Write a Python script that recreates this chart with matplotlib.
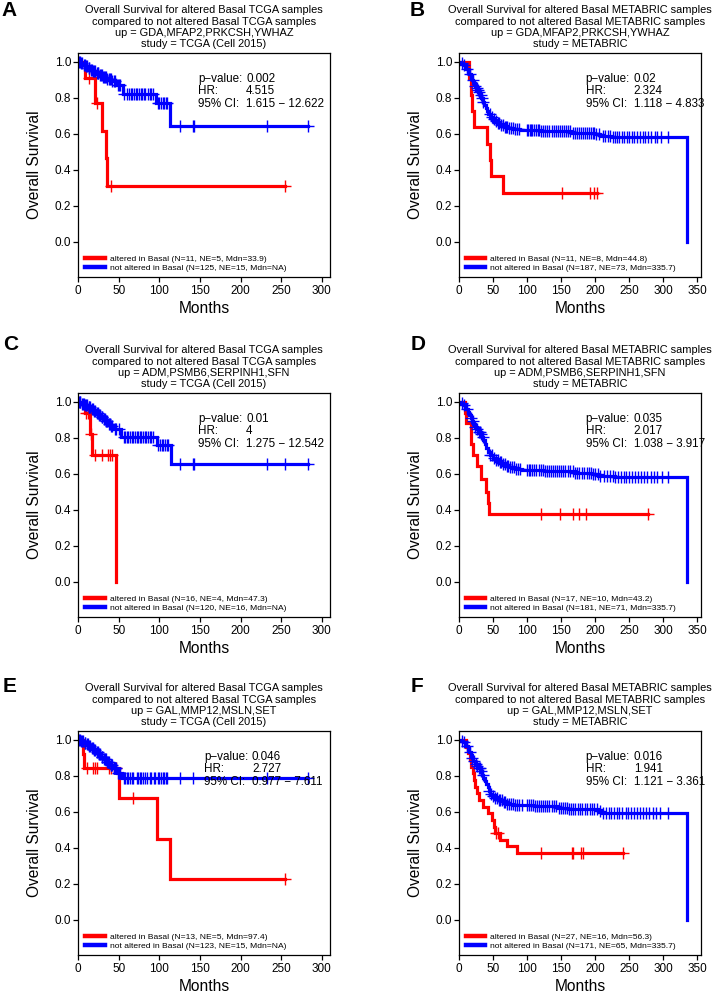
import numpy as np
import matplotlib
matplotlib.use("Agg")
import matplotlib.pyplot as plt
from matplotlib.lines import Line2D

plt.rcParams['font.family'] = ['Liberation Sans', 'DejaVu Sans']

RED = '#ff0000'
BLUE = '#0000ff'

panel_letters = ['A', 'B', 'C', 'D', 'E', 'F']

titles = [
    "Overall Survival for altered Basal TCGA samples\ncompared to not altered Basal TCGA samples\nup = GDA,MFAP2,PRKCSH,YWHAZ\nstudy = TCGA (Cell 2015)",
    "Overall Survival for altered Basal METABRIC samples\ncompared to not altered Basal METABRIC samples\nup = GDA,MFAP2,PRKCSH,YWHAZ\nstudy = METABRIC",
    "Overall Survival for altered Basal TCGA samples\ncompared to not altered Basal TCGA samples\nup = ADM,PSMB6,SERPINH1,SFN\nstudy = TCGA (Cell 2015)",
    "Overall Survival for altered Basal METABRIC samples\ncompared to not altered Basal METABRIC samples\nup = ADM,PSMB6,SERPINH1,SFN\nstudy = METABRIC",
    "Overall Survival for altered Basal TCGA samples\ncompared to not altered Basal TCGA samples\nup = GAL,MMP12,MSLN,SET\nstudy = TCGA (Cell 2015)",
    "Overall Survival for altered Basal METABRIC samples\ncompared to not altered Basal METABRIC samples\nup = GAL,MMP12,MSLN,SET\nstudy = METABRIC",
]

p_values = ['0.002', '0.02', '0.01', '0.035', '0.046', '0.016']
hr_values = ['4.515', '2.324', '4', '2.017', '2.727', '1.941']
ci_values = ['1.615 \u2212 12.622', '1.118 \u2212 4.833', '1.275 \u2212 12.542',
             '1.038 \u2212 3.917', '0.977 \u2212 7.611', '1.121 \u2212 3.361']

red_labels = [
    'altered in Basal (N=11, NE=5, Mdn=33.9)',
    'altered in Basal (N=11, NE=8, Mdn=44.8)',
    'altered in Basal (N=16, NE=4, Mdn=47.3)',
    'altered in Basal (N=17, NE=10, Mdn=43.2)',
    'altered in Basal (N=13, NE=5, Mdn=97.4)',
    'altered in Basal (N=27, NE=16, Mdn=56.3)',
]
blue_labels = [
    'not altered in Basal (N=125, NE=15, Mdn=NA)',
    'not altered in Basal (N=187, NE=73, Mdn=335.7)',
    'not altered in Basal (N=120, NE=16, Mdn=NA)',
    'not altered in Basal (N=181, NE=71, Mdn=335.7)',
    'not altered in Basal (N=123, NE=15, Mdn=NA)',
    'not altered in Basal (N=171, NE=65, Mdn=335.7)',
]

x_ticks_tcga = [0, 50, 100, 150, 200, 250, 300]
x_ticks_metabric = [0, 50, 100, 150, 200, 250, 300, 350]
y_ticks = [0.0, 0.2, 0.4, 0.6, 0.8, 1.0]

# ---------------- Panel A (TCGA) ----------------
a_red_time = [9, 21, 30, 34.5, 36]
a_red_surv = [0.909, 0.773, 0.618, 0.464, 0.309]
a_red_cens = [13, 23, 40, 255]
a_blue_time = [3, 6, 9, 12, 15, 18, 22, 26, 30, 35, 41, 47, 55, 96, 113]
a_blue_surv = [0.992, 0.984, 0.976, 0.967, 0.958, 0.949, 0.939, 0.929, 0.918,
               0.906, 0.893, 0.872, 0.822, 0.772, 0.645]
a_blue_cens = [1, 2, 4, 5, 7, 8, 10, 11, 13, 14, 16, 17, 19, 20, 21, 23, 24, 25,
               27, 28, 29, 31, 32, 33, 34, 36, 38, 39, 40, 42, 44, 45, 49, 50, 52,
               57, 60, 63, 65, 67, 69, 71, 73, 75, 77, 79, 81, 83, 86, 88, 90, 92,
               98, 100, 102, 104, 106, 108, 110, 125, 141, 143, 233, 283]

# ---------------- Panel B (METABRIC) ----------------
b_red_time = [14, 17, 19, 22, 41, 45, 47, 64]
b_red_surv = [0.909, 0.818, 0.727, 0.636, 0.545, 0.455, 0.364, 0.273]
b_red_cens = [152, 193, 199, 203]
b_blue_time = [3, 5, 7, 9, 11, 13, 15, 17, 19, 21, 23, 25, 27, 29, 31, 33, 35, 37,
               39, 41, 43, 46, 49, 52, 56, 60, 66, 72, 80, 90, 120, 165, 200, 208,
               225, 336]
b_blue_surv = [0.995, 0.989, 0.984, 0.973, 0.962, 0.951, 0.935, 0.918, 0.902,
               0.885, 0.869, 0.853, 0.842, 0.831, 0.815, 0.798, 0.777, 0.760,
               0.743, 0.726, 0.710, 0.693, 0.682, 0.671, 0.660, 0.649, 0.638,
               0.632, 0.626, 0.620, 0.614, 0.608, 0.600, 0.590, 0.584, 0.0]
b_blue_cens = [4, 8, 12, 16, 20, 24, 26, 28, 30, 32, 34, 36, 45, 48, 51, 54, 57,
               59, 62, 64, 67, 69, 71, 74, 77, 79, 82, 85, 88, 100, 102, 104, 106,
               108, 111, 113, 116, 118, 121, 124, 127, 130, 133, 137, 140, 143,
               146, 149, 152, 155, 158, 161, 164, 167, 170, 173, 176, 179, 182,
               185, 188, 191, 194, 197, 199, 202, 206, 212, 215, 219, 222, 226,
               229, 233, 236, 240, 243, 247, 250, 254, 258, 262, 266, 270, 274,
               278, 282, 288, 292, 297, 308]

# ---------------- Panel C (TCGA) ----------------
c_red_time = [8, 14.5, 17.8, 47.3]
c_red_surv = [0.9375, 0.82, 0.703, 0.0]
c_red_cens = [10, 12, 16, 21, 29, 37, 39, 42]
c_blue_time = [4, 8, 12, 16, 19, 22, 25, 28, 31, 34, 37, 40, 43, 53, 97, 114]
c_blue_surv = [0.99, 0.981, 0.972, 0.962, 0.952, 0.941, 0.930, 0.918, 0.905,
               0.892, 0.878, 0.864, 0.85, 0.805, 0.762, 0.655]
c_blue_cens = [1, 2, 3, 5, 6, 7, 9, 10, 11, 13, 14, 15, 17, 18, 20, 21, 23, 24,
               26, 27, 29, 30, 32, 33, 35, 36, 38, 39, 41, 42, 45, 47, 50, 56, 58,
               60, 62, 64, 66, 68, 70, 72, 74, 76, 78, 80, 82, 84, 86, 88, 90, 92,
               99, 101, 103, 105, 107, 109, 111, 125, 141, 143, 233, 255, 283]

# ---------------- Panel D (METABRIC) ----------------
d_red_time = [9, 11, 17, 18, 21, 26, 32, 40, 43.2, 44.5]
d_red_surv = [0.941, 0.882, 0.824, 0.765, 0.706, 0.647, 0.573, 0.50, 0.44, 0.38]
d_red_cens = [121, 148, 168, 176, 187, 278]
d_blue_time = [3, 5, 7, 9, 11, 13, 15, 17, 19, 21, 23, 26, 29, 32, 34, 36, 38,
               40, 43, 46, 50, 54, 58, 63, 68, 74, 82, 92, 125, 170, 195, 205,
               230, 336]
d_blue_surv = [0.995, 0.989, 0.983, 0.972, 0.961, 0.945, 0.928, 0.911, 0.894,
               0.877, 0.86, 0.848, 0.836, 0.824, 0.805, 0.786, 0.764, 0.742,
               0.722, 0.705, 0.69, 0.676, 0.665, 0.654, 0.644, 0.636, 0.628,
               0.621, 0.614, 0.608, 0.6, 0.588, 0.582, 0.0]
d_blue_cens = [4, 8, 12, 17, 20, 24, 27, 29, 31, 33, 35, 46, 49, 52, 55, 57, 60,
               62, 65, 67, 70, 72, 75, 78, 81, 84, 87, 90, 100, 103, 105, 108,
               111, 114, 117, 120, 123, 126, 129, 132, 135, 138, 141, 144, 147,
               150, 153, 156, 160, 163, 167, 170, 174, 177, 181, 184, 188, 191,
               194, 197, 200, 204, 208, 213, 217, 222, 226, 230, 234, 238, 242,
               246, 250, 255, 259, 263, 268, 272, 277, 282, 287, 291, 298, 308]

# ---------------- Panel E (TCGA) ----------------
e_red_time = [6, 7, 50.5, 97, 113.5]
e_red_surv = [0.923, 0.846, 0.677, 0.451, 0.225]
e_red_cens = [11, 19, 21, 23, 38, 41, 44, 47, 68, 255]
e_blue_time = [3, 7, 10, 13, 16, 19, 22, 25, 28, 31, 35, 39, 43, 48, 54]
e_blue_surv = [0.992, 0.983, 0.975, 0.966, 0.957, 0.947, 0.935, 0.922, 0.908,
               0.893, 0.877, 0.86, 0.842, 0.815, 0.786]
e_blue_cens = [1, 2, 4, 5, 6, 8, 9, 11, 12, 14, 15, 17, 18, 20, 21, 23, 24, 26,
               27, 29, 30, 32, 33, 34, 36, 37, 38, 40, 41, 42, 44, 45, 46, 47, 49,
               50, 51, 52, 56, 58, 60, 62, 64, 66, 68, 72, 74, 76, 78, 80, 82, 85,
               88, 90, 93, 95, 98, 100, 102, 104, 106, 108, 110, 125, 142, 233, 283]

# ---------------- Panel F (METABRIC) ----------------
f_red_time = [10, 13, 16, 18, 20, 22, 24, 27, 30, 36, 42, 48, 51, 53, 61, 70, 85]
f_red_surv = [0.963, 0.926, 0.889, 0.852, 0.815, 0.778, 0.741, 0.704, 0.667,
              0.63, 0.593, 0.556, 0.519, 0.481, 0.444, 0.41, 0.372]
f_red_cens = [55, 58, 120, 166, 168, 180, 183, 241]
f_blue_time = [3, 6, 9, 11, 13, 15, 17, 19, 21, 23, 26, 29, 32, 34, 36, 38, 40,
               42, 44, 46, 49, 53, 58, 64, 70, 80, 110, 145, 160, 205, 210, 336]
f_blue_surv = [0.994, 0.988, 0.976, 0.964, 0.952, 0.935, 0.917, 0.9, 0.883,
               0.866, 0.855, 0.843, 0.826, 0.808, 0.79, 0.772, 0.754, 0.736,
               0.718, 0.70, 0.688, 0.676, 0.665, 0.654, 0.646, 0.638, 0.631,
               0.623, 0.615, 0.605, 0.595, 0.0]
f_blue_cens = [4, 8, 12, 16, 19, 22, 25, 27, 29, 31, 33, 35, 44, 47, 50, 53, 56,
               59, 61, 63, 66, 68, 71, 73, 76, 79, 82, 85, 88, 92, 100, 103, 106,
               109, 112, 115, 118, 121, 124, 127, 130, 133, 137, 140, 143, 147,
               150, 153, 156, 159, 162, 165, 168, 171, 175, 178, 181, 185, 188,
               192, 196, 199, 203, 207, 212, 216, 220, 224, 228, 232, 236, 240,
               245, 249, 253, 258, 262, 266, 270, 275, 280, 285, 290, 296, 308]

panels = [
    (a_red_time, a_red_surv, a_red_cens, a_blue_time, a_blue_surv, a_blue_cens),
    (b_red_time, b_red_surv, b_red_cens, b_blue_time, b_blue_surv, b_blue_cens),
    (c_red_time, c_red_surv, c_red_cens, c_blue_time, c_blue_surv, c_blue_cens),
    (d_red_time, d_red_surv, d_red_cens, d_blue_time, d_blue_surv, d_blue_cens),
    (e_red_time, e_red_surv, e_red_cens, e_blue_time, e_blue_surv, e_blue_cens),
    (f_red_time, f_red_surv, f_red_cens, f_blue_time, f_blue_surv, f_blue_cens),
]

# ---------------- layout (pixels of a 717x991 figure) ----------------
W, H = 717, 991
fig = plt.figure(figsize=(W / 100, H / 100), dpi=100)

col_left = [78, 459]
col_width = [252, 242]
row_top = [53, 393, 731]
ax_height = 224
letter_pos = [(1, 10), (410, 10), (3, 345), (411, 345), (3, 687), (411, 686)]
stat_x = [0.477, 0.5236, 0.477, 0.5236, 0.50, 0.5236]


def km_line(times, surv, cens):
    t = np.concatenate([[0.0], np.asarray(times, float)])
    s = np.concatenate([[1.0], np.asarray(surv, float)])
    end = max(t[-1], max(cens))
    t = np.append(t, end)
    s = np.append(s, s[-1])
    c = np.asarray(cens, float)
    idx = np.searchsorted(t[:-1], c, side='right') - 1
    return t, s, c, s[idx]


for i in range(6):
    r, col = divmod(i, 2)
    left = col_left[col]
    width = col_width[col]
    top = row_top[r]
    ax = fig.add_axes([left / W, 1 - (top + ax_height) / H, width / W, ax_height / H])

    rt, rs, rc, bt, bs, bc = panels[i]
    for (tt, ss, cc, color) in [(rt, rs, rc, RED), (bt, bs, bc, BLUE)]:
        lt, ls, cx, cy = km_line(tt, ss, cc)
        ax.step(lt, ls, where='post', color=color, lw=2.3, solid_joinstyle='miter')
        ax.plot(cx, cy, linestyle='none', marker='+', ms=8, mew=1.0, color=color)

    if col == 0:
        ax.set_xlim(0, 310)
        ax.set_xticks(x_ticks_tcga)
    else:
        ax.set_xlim(0, 356)
        ax.set_xticks(x_ticks_metabric)
    ax.set_ylim(-0.195, 1.05)
    ax.set_yticks(y_ticks)
    ax.set_yticklabels([f'{v:.1f}' for v in y_ticks])
    ax.tick_params(direction='out', length=3.3, width=0.9, labelsize=8.5, pad=1.5)
    ax.tick_params(axis='x', pad=2.5)
    for sp in ax.spines.values():
        sp.set_linewidth(0.9)
    ax.set_xlabel('Months', fontsize=11.2, labelpad=3)
    ax.set_ylabel('Overall Survival', fontsize=11.2, labelpad=9)
    ax.set_title(titles[i], fontsize=7.9, linespacing=1.18, pad=4)

    # statistics block
    ax_w = width
    ys = [0.885, 0.829, 0.772]
    labs = ['p\u2212value:', 'HR:', '95% CI:']
    vals = [p_values[i], hr_values[i], ci_values[i]]
    for y, lab, val in zip(ys, labs, vals):
        ax.text(stat_x[i], y, lab, transform=ax.transAxes, fontsize=8.4, va='center', ha='left')
        ax.text(stat_x[i] + 48 / ax_w, y, val, transform=ax.transAxes, fontsize=8.4,
                va='center', ha='left')

    handles = [Line2D([], [], color=RED, lw=3.2), Line2D([], [], color=BLUE, lw=3.2)]
    ax.legend(handles, [red_labels[i], blue_labels[i]], loc='lower left',
              bbox_to_anchor=(0.028, 0.022), frameon=False, fontsize=6.1,
              handlelength=2.3, handletextpad=0.6, labelspacing=0.12,
              borderpad=0, borderaxespad=0)

    lx, ly = letter_pos[i]
    fig.text(lx / W, 1 - ly / H, panel_letters[i], fontsize=15, fontweight='bold',
             ha='left', va='center')

fig.savefig('out.png', dpi=100)
